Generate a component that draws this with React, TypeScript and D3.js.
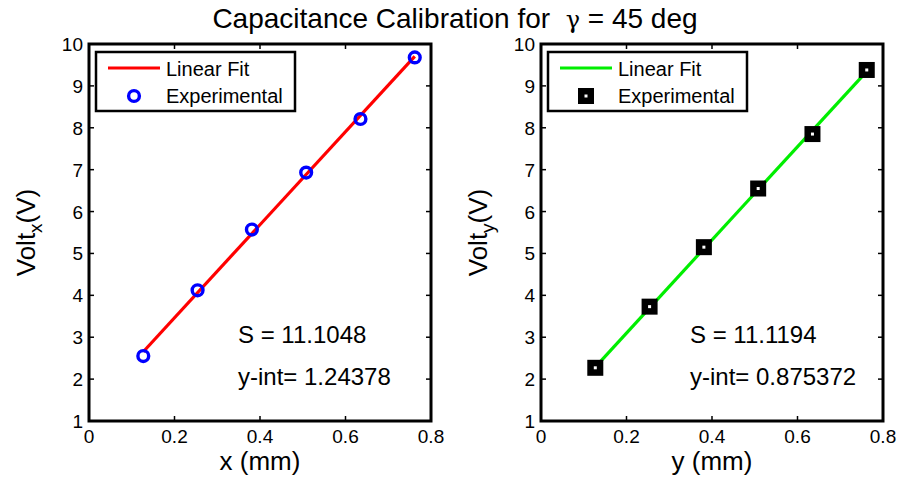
import React from "react";
import * as d3 from "d3";

// positions in mm, shared by both panels
const positions = [0.127, 0.254, 0.381, 0.508, 0.635, 0.762];
const voltX = [2.55, 4.12, 5.57, 6.93, 8.21, 9.68];
const voltY = [2.27, 3.73, 5.15, 6.55, 7.85, 9.38];
const fitX = { slope: 11.1048, intercept: 1.24378 };
const fitY = { slope: 11.1194, intercept: 0.875372 };
const xTicks = [0, 0.2, 0.4, 0.6, 0.8];
const yTicks = [1, 2, 3, 4, 5, 6, 7, 8, 9, 10];

const W = 899;
const H = 479;
const font = "'Liberation Sans', Arial, sans-serif";

type PanelProps = {
  left: number;
  values: number[];
  fit: { slope: number; intercept: number };
  lineColor: string;
  marker: "circle" | "square";
  xLabel: string;
  sub: string;
  sText: string;
  intText: string;
};

function Panel(p: PanelProps) {
  const top = 44;
  const bottom = 421;
  const width = 342;
  const x = d3.scaleLinear().domain([0, 0.8]).range([p.left, p.left + width]);
  const y = d3.scaleLinear().domain([1, 10]).range([bottom, top]);
  const fitLine = d3
    .line<number>()
    .x((d) => x(d))
    .y((d) => y(p.fit.intercept + p.fit.slope * d));
  const ends = [positions[0], positions[positions.length - 1]];
  const tl = 5;

  const drawMarker = (cx: number, cy: number, key: string | number) =>
    p.marker === "circle" ? (
      <circle key={key} cx={cx} cy={cy} r={5.4} fill="none" stroke="#0000ff" strokeWidth={3.4} />
    ) : (
      <g key={key}>
        <rect x={cx - 8} y={cy - 8} width={16} height={16} fill="#000" />
        <rect x={cx - 1.5} y={cy - 1.5} width={3} height={3} fill="#fff" />
      </g>
    );

  const lx = p.left + 7;
  const ly = 52;

  return (
    <g>
      <rect x={p.left} y={top} width={width} height={bottom - top} fill="#fff" />
      {xTicks.map((t) => (
        <g key={"x" + t}>
          <line x1={x(t)} x2={x(t)} y1={bottom} y2={bottom - tl} stroke="#000" strokeWidth={1.5} />
          <line x1={x(t)} x2={x(t)} y1={top} y2={top + tl} stroke="#000" strokeWidth={1.5} />
          <text x={x(t)} y={bottom + 22} fontSize={19} textAnchor="middle" fontFamily={font}>
            {t}
          </text>
        </g>
      ))}
      {yTicks.map((t) => (
        <g key={"y" + t}>
          <line x1={p.left} x2={p.left + tl} y1={y(t)} y2={y(t)} stroke="#000" strokeWidth={1.5} />
          <line x1={p.left + width} x2={p.left + width - tl} y1={y(t)} y2={y(t)} stroke="#000" strokeWidth={1.5} />
          <text x={p.left - 6} y={y(t) + 7} fontSize={19} textAnchor="end" fontFamily={font}>
            {t}
          </text>
        </g>
      ))}
      <path d={fitLine(ends) ?? ""} stroke={p.lineColor} strokeWidth={3.2} fill="none" />
      {positions.map((d, i) => drawMarker(x(d), y(p.values[i]), i))}
      <text x={p.left + 149} y={343} fontSize={24} fontFamily={font}>
        {p.sText}
      </text>
      <text x={p.left + 149} y={385} fontSize={24} fontFamily={font}>
        {p.intText}
      </text>
      <rect x={p.left} y={top} width={width} height={bottom - top} fill="none" stroke="#000" strokeWidth={3} />
      {/* legend */}
      <rect x={lx} y={ly} width={199} height={59} fill="#fff" stroke="#000" strokeWidth={2.5} />
      <line x1={lx + 12} x2={lx + 64} y1={ly + 16} y2={ly + 16} stroke={p.lineColor} strokeWidth={3.2} />
      <text x={lx + 70} y={ly + 24} fontSize={20} fontFamily={font}>
        Linear Fit
      </text>
      {drawMarker(lx + 38, ly + 44, "lg")}
      <text x={lx + 70} y={ly + 51} fontSize={20} fontFamily={font}>
        Experimental
      </text>
      <text x={p.left + width / 2} y={H - 9} fontSize={26} textAnchor="middle" fontFamily={font}>
        {p.xLabel}
      </text>
      <text
        transform={`translate(${p.left - 54},${(top + bottom) / 2}) rotate(-90)`}
        fontSize={26}
        textAnchor="middle"
        fontFamily={font}
      >
        Volt
        <tspan fontSize={19} dy={7}>
          {p.sub}
        </tspan>
        <tspan dy={-7}>(V)</tspan>
      </text>
    </g>
  );
}

export default function App() {
  return (
    <svg width={W} height={H} style={{ display: "block", position: "absolute", left: 0, top: 0 }}>
      <rect width={W} height={H} fill="#fff" />
      <text x={455} y={28} fontSize={28} textAnchor="middle" fontFamily={font}>
        Capacitance Calibration for {"\u00a0"}
        <tspan fontFamily="'DejaVu Serif', serif" fontSize={24}>γ</tspan> = 45 deg
      </text>
      <Panel
        left={89}
        values={voltX}
        fit={fitX}
        lineColor="#ff0000"
        marker="circle"
        xLabel="x (mm)"
        sub="x"
        sText="S = 11.1048"
        intText="y-int= 1.24378"
      />
      <Panel
        left={541}
        values={voltY}
        fit={fitY}
        lineColor="#00ee00"
        marker="square"
        xLabel="y (mm)"
        sub="y"
        sText="S = 11.1194"
        intText="y-int= 0.875372"
      />
    </svg>
  );
}
